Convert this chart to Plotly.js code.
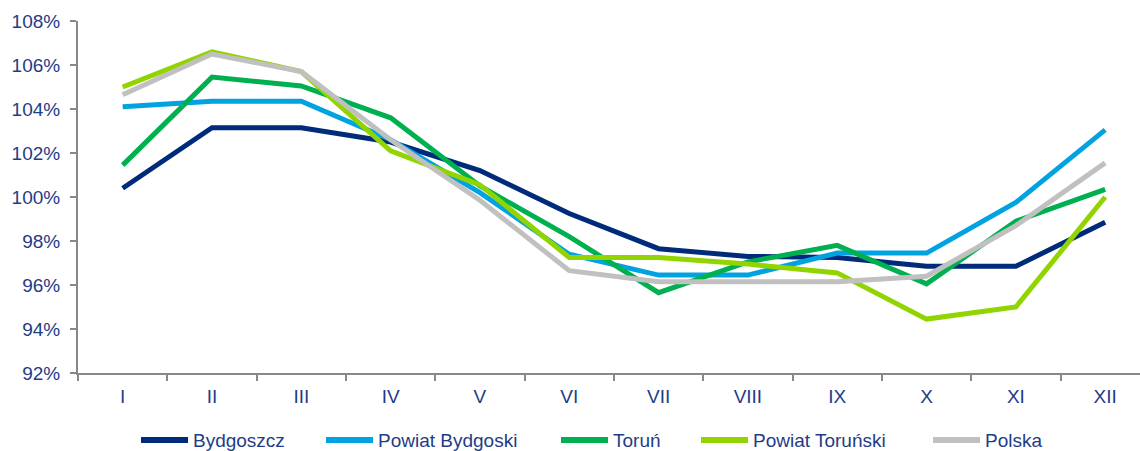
<!DOCTYPE html>
<html>
<head>
<meta charset="utf-8">
<script src="https://cdn.plot.ly/plotly-3.0.1.min.js"></script>
<style>html,body{margin:0;padding:0;background:#fff;}#chart{width:1140px;height:451px;}</style>
</head>
<body>
<div id="chart"></div>
<script>
const months = ["I","II","III","IV","V","VI","VII","VIII","IX","X","XI","XII"];
const bydgoszcz = [100.4,103.15,103.15,102.5,101.2,99.25,97.65,97.3,97.25,96.85,96.85,98.85];
const powiatBydgoski = [104.1,104.35,104.35,102.6,100.2,97.4,96.45,96.45,97.45,97.45,99.75,103.05];
const torun = [101.45,105.45,105.05,103.6,100.5,98.2,95.65,97.05,97.8,96.05,98.9,100.35];
const powiatTorunski = [105.0,106.6,105.7,102.1,100.55,97.25,97.25,96.95,96.55,94.45,95.0,100.0];
const polska = [104.65,106.5,105.7,102.6,99.85,96.65,96.15,96.15,96.15,96.4,98.7,101.55];

const seriesNames = ["Bydgoszcz","Powiat Bydgoski","Toruń","Powiat Toruński","Polska"];
const seriesData = [bydgoszcz, powiatBydgoski, torun, powiatTorunski, polska];
const colors = ["#002B7A","#00A3E0","#00B050","#92D400","#C0C0C0"];

const textColor = "#1F3C88";
const W = 1140, H = 451, ML = 78, MR = 0, MT = 21, MB = 78;
const PW = W - ML - MR, PH = H - MT - MB;

const traces = seriesData.map((d,i)=>({
  type:"scatter", mode:"lines", x:months, y:d, name:seriesNames[i],
  line:{color:colors[i], width:5}, showlegend:false
}));

// custom legend (layout positions in pixels -> paper coords)
const legendStarts = [138, 323, 558, 698, 930];
const legendLineLen = 53;
const legendY = 440;
const toPX = px => (px - ML) / PW;
const toPY = py => (H - MB - py) / PH;
const shapes = [], annotations = [];
seriesNames.forEach((n,i)=>{
  shapes.push({type:"line", xref:"paper", yref:"paper",
    x0:toPX(legendStarts[i]+3), x1:toPX(legendStarts[i]+legendLineLen-3),
    y0:toPY(legendY), y1:toPY(legendY),
    line:{color:colors[i], width:6}, layer:"above"});
  annotations.push({xref:"paper", yref:"paper", x:toPX(legendStarts[i]+legendLineLen+1), y:toPY(legendY),
    xanchor:"left", yanchor:"middle", showarrow:false, text:n, borderpad:0,
    font:{size:19, color:textColor}});
});

const layout = {
  width:W, height:H,
  margin:{l:ML, r:MR, t:MT, b:MB, pad:0},
  paper_bgcolor:"#fff", plot_bgcolor:"#fff",
  font:{family:"Liberation Sans, Arial, sans-serif", size:19, color:textColor},
  showlegend:false,
  shapes:shapes, annotations:annotations,
  xaxis:{type:"category", range:[-0.5, 11.39], showgrid:false, zeroline:false, automargin:false,
         showline:true, linecolor:"#888", linewidth:2,
         ticks:"outside", tickson:"boundaries", ticklen:6, tickcolor:"#888", tickwidth:2,
         ticklabelstandoff:5,
         tickfont:{size:19, color:textColor}},
  yaxis:{range:[92,108], dtick:2, ticksuffix:"%", showgrid:false, zeroline:false, automargin:false,
         showline:true, linecolor:"#888", linewidth:2,
         ticks:"outside", ticklen:6, tickcolor:"#888", tickwidth:2,
         ticklabelstandoff:6,
         tickfont:{size:19, color:textColor}}
};

Plotly.newPlot("chart", traces, layout, {displayModeBar:false, staticPlot:true});
</script>
</body>
</html>
